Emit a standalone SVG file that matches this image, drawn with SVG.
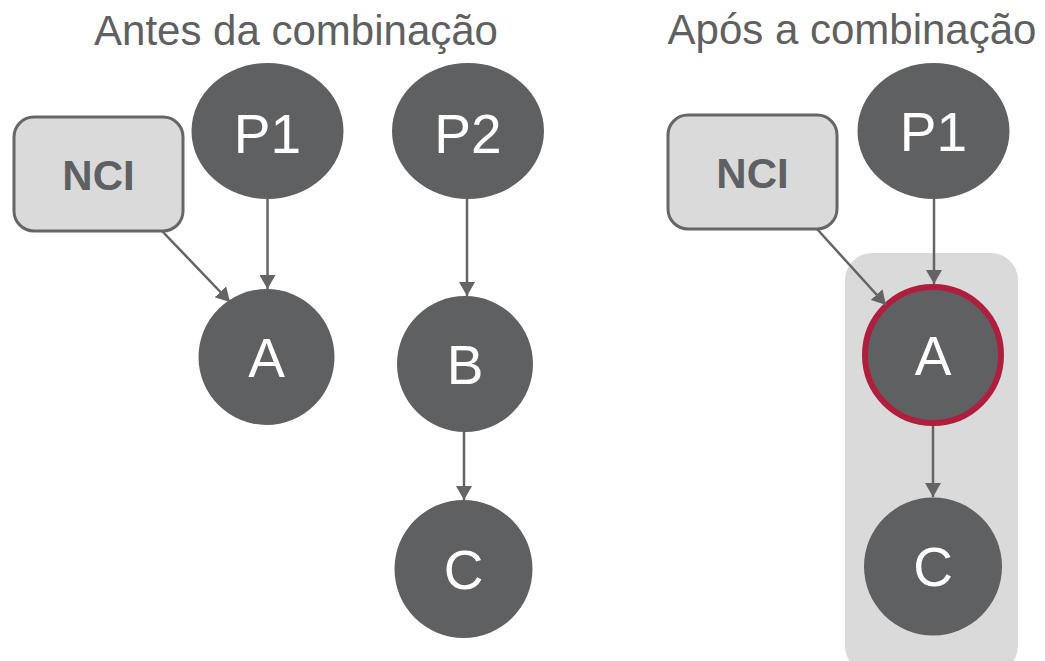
<svg xmlns="http://www.w3.org/2000/svg" width="1045" height="661" viewBox="0 0 1045 661">
  <style>
    .title { font-family: "Liberation Sans", Arial, sans-serif; font-size: 42px; fill: #606060; text-anchor: middle; }
    .node { fill: #5f6062; }
    .node-label { font-family: "Liberation Sans", Arial, sans-serif; font-size: 55px; fill: #ffffff; text-anchor: middle; }
    .box { fill: #dadada; stroke: #666666; stroke-width: 3; }
    .box-label { font-family: "Liberation Sans", Arial, sans-serif; font-size: 42px; font-weight: bold; fill: #5f6062; text-anchor: middle; }
    .group-bg { fill: #dadada; }
    .highlight { stroke: #b01e3d; stroke-width: 6; }
    .edge { stroke: #646464; stroke-width: 2.5; fill: none; marker-end: url(#arrow); }
  </style>
  <defs>
    <marker id="arrow" viewBox="0 0 14 16" refX="14" refY="8" markerWidth="14" markerHeight="16" markerUnits="userSpaceOnUse" orient="auto">
      <path d="M0,0 L14,8 L0,16 Z" fill="#646464"/>
    </marker>
  </defs>

  <rect width="1045" height="661" fill="#ffffff"/>

  <!-- Titles -->
  <text class="title" x="296" y="45">Antes da combinação</text>
  <text class="title" x="852" y="44">Após a combinação</text>

  <!-- Merged group background -->
  <rect id="merged-group" class="group-bg" x="845" y="253" width="173" height="420" rx="27"/>

  <!-- Before merge -->
  <g id="nci-before">
    <rect class="box" x="14" y="117" width="169" height="114" rx="20"/>
    <text class="box-label" x="98.5" y="190">NCI</text>
  </g>
  <g id="p1-before">
    <ellipse class="node" cx="267.5" cy="131" rx="76" ry="68"/>
    <text class="node-label" x="267.5" y="153">P1</text>
  </g>
  <g id="p2-before">
    <ellipse class="node" cx="468" cy="131" rx="76" ry="68"/>
    <text class="node-label" x="468" y="153">P2</text>
  </g>
  <g id="a-before">
    <circle class="node" cx="266.5" cy="357" r="68"/>
    <text class="node-label" x="266.5" y="377">A</text>
  </g>
  <g id="b-before">
    <circle class="node" cx="465" cy="364" r="68"/>
    <text class="node-label" x="465" y="384">B</text>
  </g>
  <g id="c-before">
    <circle class="node" cx="463.5" cy="569" r="69"/>
    <text class="node-label" x="463.5" y="589">C</text>
  </g>

  <!-- After merge -->
  <g id="nci-after">
    <rect class="box" x="668" y="115" width="169" height="114" rx="20"/>
    <text class="box-label" x="752.5" y="188">NCI</text>
  </g>
  <g id="p1-after">
    <ellipse class="node" cx="933.5" cy="131" rx="76" ry="68"/>
    <text class="node-label" x="933.5" y="151">P1</text>
  </g>
  <g id="a-after">
    <circle class="node highlight" cx="933" cy="355" r="68"/>
    <text class="node-label" x="933" y="375">A</text>
  </g>
  <g id="c-after">
    <circle class="node" cx="933" cy="566.5" r="69"/>
    <text class="node-label" x="933" y="586">C</text>
  </g>

  <!-- Connectors -->
  <g id="connectors">
    <line class="edge" x1="162" y1="231" x2="230" y2="302"/>
    <line class="edge" x1="267.5" y1="199" x2="267.5" y2="289"/>
    <line class="edge" x1="467" y1="199" x2="467" y2="296"/>
    <line class="edge" x1="464" y1="432" x2="464" y2="500"/>
    <line class="edge" x1="817" y1="229" x2="886" y2="305"/>
    <line class="edge" x1="934" y1="199" x2="934" y2="284"/>
    <line class="edge" x1="933" y1="426" x2="933" y2="497"/>
  </g>
</svg>
